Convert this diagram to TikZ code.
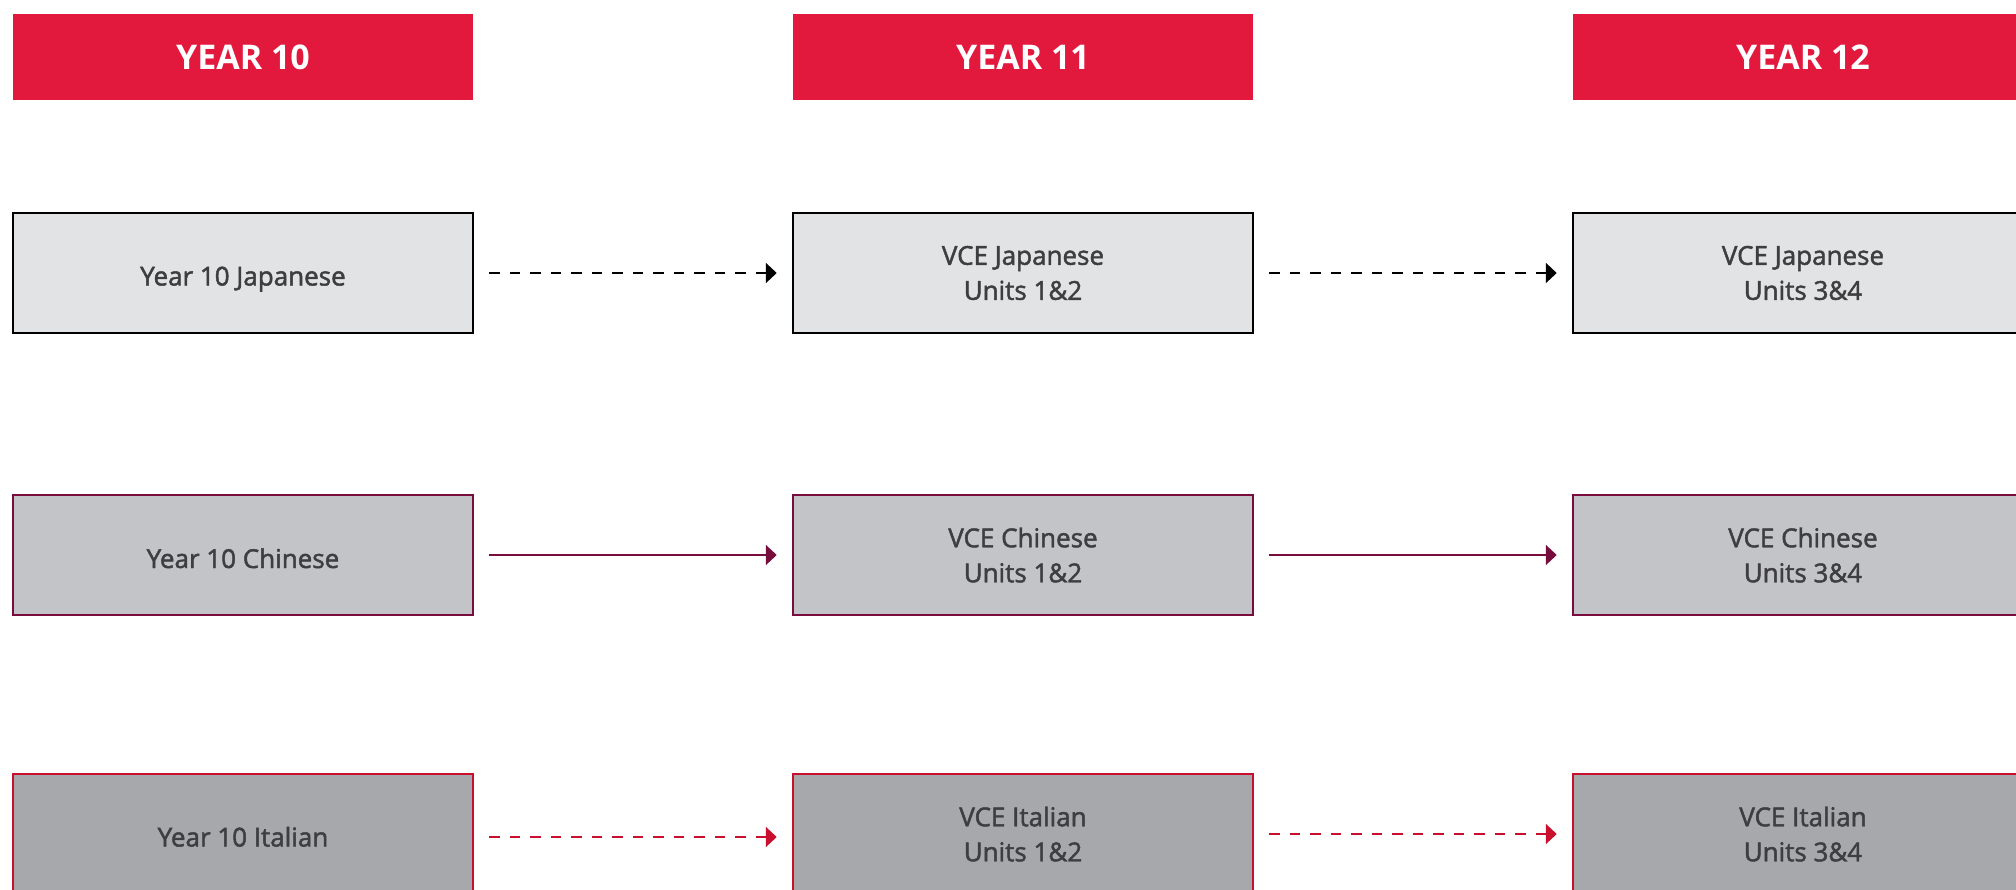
\documentclass[tikz,border=0pt]{standalone}
\usepackage{fontspec}
\setmainfont{Open Sans}
\newfontfamily\semifont[FakeBold=1.8]{Open Sans}
\usetikzlibrary{arrows.meta}
\definecolor{hdr}{HTML}{E2183D}
\definecolor{txt}{HTML}{3E3E40}
\definecolor{jpfill}{HTML}{E2E3E5}
\definecolor{chfill}{HTML}{C3C4C8}
\definecolor{itfill}{HTML}{A7A8AC}
\definecolor{chline}{HTML}{780C3C}
\definecolor{itline}{HTML}{C8102E}
\newcommand{\oneline}[2]{\raisebox{#1}[0pt][0pt]{#2}}
\begin{document}
\begin{tikzpicture}[x=1pt,y=-1pt,
  hdrbox/.style={fill=hdr, minimum width=460pt, minimum height=86pt, inner sep=0pt,
    text=white, font=\fontsize{34}{40}\selectfont\bfseries},
  course/.style={minimum width=460pt, minimum height=120pt, inner sep=0pt,
    line width=2.5pt, text=txt, align=center, font=\semifont\fontsize{26}{35}\selectfont},
  jpbox/.style={course, draw=black, fill=jpfill},
  chbox/.style={course, draw=chline, fill=chfill},
  itbox/.style={course, draw=itline, fill=itfill},
  link/.style={line width=2pt, shorten <=15pt, shorten >=15pt,
    -{Triangle[length=11pt,width=20pt]}},
  jplink/.style={link, draw=black, dash pattern=on 10.5pt off 10pt},
  chlink/.style={link, draw=chline},
  itlink/.style={link, draw=itline, dash pattern=on 10.5pt off 10pt}]
\useasboundingbox (0,0) rectangle (2016,889);
% headers
\node[hdrbox] (h1) at (243,57) {YEAR 10};
\node[hdrbox] (h2) at (1023,57) {YEAR 11};
\node[hdrbox] (h3) at (1803,57) {YEAR 12};
% Japanese row
\node[jpbox] (a1) at (243,273) {\oneline{-12.5pt}{Year 10 Japanese}};
\node[jpbox] (b1) at (1023,273) {VCE Japanese\\Units 1\&2};
\node[jpbox] (c1) at (1803,273) {VCE Japanese\\Units 3\&4};
% Chinese row
\node[chbox] (a2) at (243,555) {\oneline{-13pt}{Year 10 Chinese}};
\node[chbox] (b2) at (1023,555) {VCE Chinese\\Units 1\&2};
\node[chbox] (c2) at (1803,555) {VCE Chinese\\Units 3\&4};
% Italian row
\node[itbox] (a3) at (243,834) {\oneline{-12.5pt}{Year 10 Italian}};
\node[itbox] (b3) at (1023,834) {VCE Italian\\Units 1\&2};
\node[itbox] (c3) at (1803,834) {VCE Italian\\Units 3\&4};
% connectors
\draw[jplink] (a1) -- (b1);
\draw[jplink] (b1) -- (c1);
\draw[chlink] (a2) -- (b2);
\draw[chlink] (b2) -- (c2);
\draw[itlink] ([yshift=-3pt]a3.east) -- ([yshift=-3pt]b3.west);
\draw[itlink] (b3) -- (c3);
\end{tikzpicture}
\end{document}
